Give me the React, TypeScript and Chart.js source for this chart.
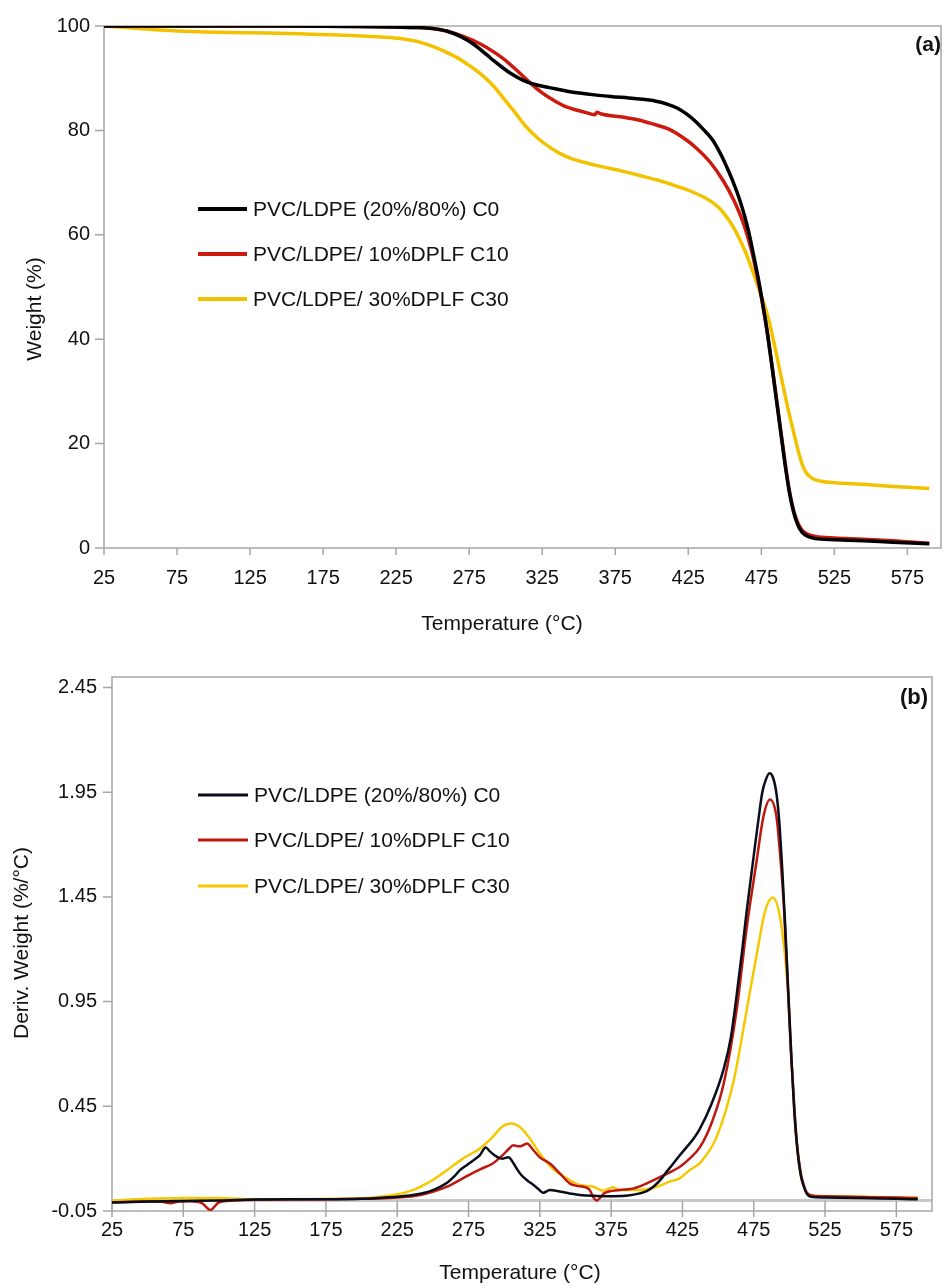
import React, { useEffect, useRef } from "react";
import { Chart, registerables } from "chart.js";

Chart.register(...registerables);

// ---------- shared labels / ticks ----------
const X_TICKS = [25, 75, 125, 175, 225, 275, 325, 375, 425, 475, 525, 575];
const TGA_Y_TICKS = [0, 20, 40, 60, 80, 100];
const DTG_Y_TICKS = [-0.05, 0.45, 0.95, 1.45, 1.95, 2.45];
const SERIES_LABELS = ["PVC/LDPE (20%/80%) C0", "PVC/LDPE/ 10%DPLF C10", "PVC/LDPE/ 30%DPLF C30"];
const X_TITLE = "Temperature (°C)";
const TGA_Y_TITLE = "Weight (%)";
const DTG_Y_TITLE = "Deriv. Weight (%/°C)";

// ---------- (a) TGA: weight (%) ----------
const TGA_C0_T = [25, 60, 100, 150, 200, 225, 240, 250, 260, 269, 278, 287, 292, 298, 303, 312, 320, 330, 344, 358, 372, 388, 403, 411, 418, 424, 430, 436, 439, 442, 445, 448, 451, 455, 461, 466, 470, 473, 476, 479, 482, 485, 488, 491, 494, 497, 500, 503, 507, 512, 525, 545, 565, 590];
const TGA_C0_W = [100, 100, 100, 100, 99.9, 99.8, 99.7, 99.5, 99.0, 98.0, 96.5, 94.5, 93.3, 92.0, 91.0, 89.6, 88.8, 88.2, 87.4, 86.9, 86.5, 86.1, 85.6, 85.0, 84.2, 83.1, 81.7, 80.0, 79.1, 78.0, 76.6, 75.0, 73.2, 70.6, 66.0, 61.0, 55.7, 51.5, 46.7, 41.5, 35.4, 29.1, 22.8, 16.5, 11.0, 7.0, 4.4, 3.0, 2.2, 1.8, 1.6, 1.4, 1.1, 0.8];

const TGA_C10_T = [25, 60, 100, 150, 200, 225, 240, 250, 260, 271, 283, 292, 299, 306, 311, 316, 320, 325, 332, 339, 346, 355, 361, 362.5, 365, 381, 391, 400, 412, 423, 431, 440, 449, 456, 463, 468, 472, 476, 479, 482, 485, 488, 491, 494, 497, 500, 503, 507, 512, 525, 545, 565, 590];
const TGA_C10_W = [100, 100, 100, 100, 99.9, 99.8, 99.7, 99.5, 99.0, 98.0, 96.5, 95.0, 93.6, 91.9, 90.6, 89.3, 88.3, 87.2, 85.9, 84.8, 84.1, 83.4, 83.0, 83.5, 83.2, 82.5, 82.0, 81.3, 80.2, 78.3, 76.5, 73.9, 70.3, 66.7, 62.0, 57.3, 52.3, 46.5, 41.4, 35.6, 29.3, 23.1, 16.9, 11.3, 7.3, 4.8, 3.4, 2.6, 2.2, 1.9, 1.7, 1.4, 0.9];

const TGA_C30_T = [25, 40, 60, 90, 125, 160, 195, 215, 228, 240, 250, 260, 270, 282, 291, 299, 307, 314, 322, 330, 337, 345, 355, 365, 380, 394, 405, 417, 428, 437, 442, 447, 452, 457, 464, 470, 475, 480, 485, 489, 493, 497, 500, 503, 506, 510, 516, 525, 545, 565, 590];
const TGA_C30_W = [100, 99.7, 99.3, 98.9, 98.7, 98.5, 98.2, 97.9, 97.6, 97.0, 96.1, 94.9, 93.4, 91.0, 88.7, 86.0, 83.2, 80.7, 78.5, 76.8, 75.6, 74.6, 73.8, 73.1, 72.2, 71.2, 70.4, 69.3, 68.2, 67.0, 66.1, 64.9, 63.1, 60.9, 56.8, 52.3, 48.3, 43.8, 37.6, 32.2, 27.0, 22.3, 18.9, 16.0, 14.3, 13.3, 12.8, 12.5, 12.2, 11.8, 11.4];

// ---------- (b) DTG: derivative weight (%/°C) ----------
const DTG_C0_T = [25, 50, 75, 100, 125, 150, 175, 200, 213, 225, 236, 245, 250, 255, 260, 265, 269, 274, 278, 283, 287, 290, 292.5, 296, 299, 303, 306.5, 309, 312, 316, 320.5, 324, 327.5, 332, 336, 340, 346, 353, 365, 377, 387, 395, 400, 405, 410, 414, 419, 423, 428, 433, 437, 445, 454, 459, 463, 467, 470, 473, 476, 478.5, 481, 483.5, 486, 488.5, 491, 493, 495, 497, 499, 501.5, 503.5, 505.5, 508, 510, 512, 515, 525, 550, 575, 590];
const DTG_C0_D = [-0.01, -0.005, -0.002, 0.0, 0.005, 0.006, 0.006, 0.008, 0.013, 0.018, 0.026, 0.038, 0.05, 0.065, 0.085, 0.115, 0.145, 0.17, 0.19, 0.217, 0.253, 0.235, 0.22, 0.205, 0.2, 0.207, 0.178, 0.15, 0.122, 0.097, 0.074, 0.055, 0.037, 0.05, 0.047, 0.042, 0.034, 0.026, 0.022, 0.021, 0.024, 0.034, 0.045, 0.068, 0.102, 0.138, 0.18, 0.215, 0.255, 0.297, 0.34, 0.455, 0.63, 0.78, 0.98, 1.2, 1.38, 1.54, 1.7, 1.83, 1.95, 2.01, 2.04, 2.02, 1.94, 1.8, 1.58, 1.32, 1.03, 0.67, 0.42, 0.25, 0.12, 0.07, 0.035, 0.018, 0.015, 0.012, 0.008, 0.006];

const DTG_C10_T = [25, 50, 60, 66, 72, 80, 88, 94, 100, 110, 125, 150, 175, 200, 213, 225, 236, 250, 260, 271, 283, 292, 299, 303, 306.5, 309, 311, 313.5, 316, 320.5, 325, 332, 339, 346, 351, 355.5, 360, 362.5, 365, 367.5, 370, 381, 391, 400, 412, 423, 430, 437.4, 446, 454, 463, 470, 477, 481.7, 486.4, 491, 493.5, 496, 498.5, 501, 503.5, 505.5, 508, 510, 512, 515, 525, 550, 575, 590];
const DTG_C10_D = [-0.008, -0.005, -0.006, -0.013, -0.005, -0.004, -0.012, -0.045, -0.008, 0.0, 0.004, 0.005, 0.006, 0.008, 0.01, 0.014, 0.02, 0.042, 0.066, 0.106, 0.149, 0.177, 0.217, 0.245, 0.264, 0.26, 0.259, 0.265, 0.272, 0.24, 0.206, 0.177, 0.13, 0.082, 0.07, 0.066, 0.05, 0.015, 0.0, 0.015, 0.034, 0.05, 0.058, 0.082, 0.121, 0.16, 0.2, 0.256, 0.38, 0.56, 0.91, 1.3, 1.62, 1.83, 1.915, 1.83, 1.65, 1.42, 1.08, 0.72, 0.44, 0.26, 0.13, 0.075, 0.04, 0.025, 0.02, 0.017, 0.014, 0.012];

const DTG_C30_T = [25, 50, 75, 100, 125, 150, 175, 200, 213, 225, 236, 243, 250, 260, 271, 283, 292, 299, 305, 311, 318, 325, 334, 344, 353, 362.5, 369.5, 373, 376.6, 381, 395, 407, 416, 423, 430, 437.4, 449, 461, 470, 478, 483, 488.3, 493.5, 497.7, 499.5, 501.5, 503.5, 505.5, 508, 510, 512, 515, 525, 550, 575, 590];
const DTG_C30_D = [0.0, 0.008, 0.012, 0.012, 0.006, 0.006, 0.007, 0.01, 0.018, 0.03, 0.05, 0.072, 0.098, 0.145, 0.2, 0.249, 0.304, 0.355, 0.368, 0.351, 0.296, 0.225, 0.153, 0.106, 0.074, 0.066, 0.047, 0.055, 0.063, 0.05, 0.05, 0.066, 0.09, 0.106, 0.145, 0.18, 0.304, 0.574, 0.907, 1.21, 1.383, 1.447, 1.351, 1.113, 0.95, 0.67, 0.42, 0.25, 0.12, 0.07, 0.04, 0.025, 0.02, 0.018, 0.015, 0.013];

const FONT = '"Liberation Sans", Arial, Helvetica, sans-serif';
const TEXT = "#111111";

const zip = (t: number[], v: number[]) => t.map((x, i) => ({ x, y: v[i] }));

type Panel = {
  width: number;
  height: number;
  top: number;
  padding: { top: number; right: number; left: number; bottom: number };
  yAxisWidth: number;
  xAxisHeight: number;
  xMax: number;
  yMin: number;
  yMax: number;
  yTicks: number[];
  yDigits: number;
  xLabelPad: number;
  yLabelPad: number;
  lineWidth: number;
  colors: string[];
  series: { t: number[]; v: number[] }[];
  legendRows: number[];
  legendX1: number;
  legendX2: number;
  legendTextX: number;
  legendLineWidth: number;
  xTitle: [number, number];
  yTitle: [number, number];
  yTitleText: string;
  tag: string;
  tagX: number;
  tagY: number;
  tagSize: number;
  zeroLine: boolean;
  xTickLen: number;
  yTickLen: number;
};

function decorPlugin(d: Panel) {
  return {
    id: "decor",
    beforeDatasetsDraw(chart: any) {
      const { ctx, chartArea: a, scales } = chart;
      const xs = scales.x;
      const ys = scales.y;
      ctx.save();
      if (d.zeroLine) {
        const y0 = ys.getPixelForValue(0);
        ctx.strokeStyle = "#c9c9c9";
        ctx.lineWidth = 3;
        ctx.beginPath();
        ctx.moveTo(a.left, y0);
        ctx.lineTo(a.right, y0);
        ctx.stroke();
      }
      ctx.strokeStyle = "#a6a6a6";
      ctx.lineWidth = 1.5;
      ctx.strokeRect(a.left, a.top, a.right - a.left, a.bottom - a.top);
      ctx.beginPath();
      ys.ticks.forEach((t: any) => {
        const y = ys.getPixelForValue(t.value);
        ctx.moveTo(a.left - d.yTickLen, y);
        ctx.lineTo(a.left, y);
      });
      const xStart = d.zeroLine ? ys.getPixelForValue(0) : a.bottom;
      xs.ticks.forEach((t: any) => {
        const x = xs.getPixelForValue(t.value);
        ctx.moveTo(x, xStart);
        ctx.lineTo(x, a.bottom + d.xTickLen);
      });
      ctx.stroke();
      ctx.restore();
    },
    afterDraw(chart: any) {
      const { ctx } = chart;
      ctx.save();
      // legend
      chart.data.datasets.forEach((ds: any, i: number) => {
        const y = d.legendRows[i];
        ctx.strokeStyle = ds.borderColor;
        ctx.lineWidth = d.legendLineWidth;
        ctx.lineCap = "butt";
        ctx.beginPath();
        ctx.moveTo(d.legendX1, y);
        ctx.lineTo(d.legendX2, y);
        ctx.stroke();
        ctx.fillStyle = TEXT;
        ctx.font = `21px ${FONT}`;
        ctx.textAlign = "left";
        ctx.textBaseline = "middle";
        ctx.fillText(ds.label, d.legendTextX, y + 1);
      });
      // axis titles
      ctx.fillStyle = TEXT;
      ctx.font = `21px ${FONT}`;
      ctx.textAlign = "center";
      ctx.textBaseline = "middle";
      ctx.fillText(X_TITLE, d.xTitle[0], d.xTitle[1]);
      ctx.save();
      ctx.translate(d.yTitle[0], d.yTitle[1]);
      ctx.rotate(-Math.PI / 2);
      ctx.fillText(d.yTitleText, 0, 0);
      ctx.restore();
      // panel tag
      ctx.font = `bold ${d.tagSize}px ${FONT}`;
      ctx.textAlign = "right";
      ctx.fillText(d.tag, d.tagX, d.tagY);
      ctx.restore();
    },
  };
}

function buildConfig(p: Panel): any {
  return {
    type: "line",
    data: {
      datasets: p.series.map((s, i) => ({
        label: SERIES_LABELS[i],
        data: zip(s.t, s.v),
        borderColor: p.colors[i],
        backgroundColor: p.colors[i],
        borderWidth: p.lineWidth,
        pointRadius: 0,
        fill: false,
        cubicInterpolationMode: "monotone",
      })),
    },
    options: {
      responsive: false,
      animation: false,
      events: [],
      layout: { padding: p.padding },
      plugins: {
        legend: { display: false },
        title: { display: false },
        tooltip: { enabled: false },
      },
      scales: {
        x: {
          type: "linear",
          min: 25,
          max: p.xMax,
          afterBuildTicks: (s: any) => {
            s.ticks = X_TICKS.map((value) => ({ value }));
          },
          afterFit: (s: any) => {
            s.height = p.xAxisHeight;
          },
          grid: { display: false, drawTicks: false },
          border: { display: false },
          ticks: {
            autoSkip: false,
            maxRotation: 0,
            padding: p.xLabelPad,
            color: TEXT,
            font: { family: FONT, size: 20 },
            callback: (v: any) => String(v),
          },
        },
        y: {
          type: "linear",
          min: p.yMin,
          max: p.yMax,
          afterBuildTicks: (s: any) => {
            s.ticks = p.yTicks.map((value) => ({ value }));
          },
          afterFit: (s: any) => {
            s.width = p.yAxisWidth;
          },
          grid: { display: false, drawTicks: false },
          border: { display: false },
          ticks: {
            padding: p.yLabelPad,
            color: TEXT,
            font: { family: FONT, size: 20 },
            callback: (v: any) => Number(v).toFixed(p.yDigits),
          },
        },
      },
    },
    plugins: [decorPlugin(p)],
  };
}

const TOP_PANEL: Panel = {
  width: 943,
  height: 650,
  top: 0,
  padding: { top: 24, right: 2, left: 0, bottom: 0 },
  yAxisWidth: 104,
  xAxisHeight: 102,
  xMax: 598,
  yMin: 0,
  yMax: 100,
  yTicks: TGA_Y_TICKS,
  yDigits: 0,
  xLabelPad: 18,
  yLabelPad: 14,
  lineWidth: 3.5,
  colors: ["#000000", "#cc1a0e", "#f2c100"],
  series: [
    { t: TGA_C0_T, v: TGA_C0_W },
    { t: TGA_C10_T, v: TGA_C10_W },
    { t: TGA_C30_T, v: TGA_C30_W },
  ],
  legendRows: [209, 254, 299],
  legendX1: 198,
  legendX2: 247,
  legendTextX: 253,
  legendLineWidth: 4,
  xTitle: [502, 624],
  yTitle: [35, 309],
  yTitleText: TGA_Y_TITLE,
  tag: "(a)",
  tagX: 941,
  tagY: 45,
  tagSize: 21,
  zeroLine: false,
  xTickLen: 7,
  yTickLen: 9,
};

const BOTTOM_PANEL: Panel = {
  width: 943,
  height: 635,
  top: 650,
  padding: { top: 25, right: 11, left: 0, bottom: 0 },
  yAxisWidth: 112,
  xAxisHeight: 74,
  xMax: 600,
  yMin: -0.05,
  yMax: 2.5,
  yTicks: DTG_Y_TICKS,
  yDigits: 2,
  xLabelPad: 7,
  yLabelPad: 15,
  lineWidth: 2.5,
  colors: ["#0a0d1a", "#bd1810", "#f5c800"],
  series: [
    { t: DTG_C0_T, v: DTG_C0_D },
    { t: DTG_C10_T, v: DTG_C10_D },
    { t: DTG_C30_T, v: DTG_C30_D },
  ],
  legendRows: [145, 190, 236],
  legendX1: 198,
  legendX2: 248,
  legendTextX: 254,
  legendLineWidth: 3,
  xTitle: [520, 623],
  yTitle: [22, 293],
  yTitleText: DTG_Y_TITLE,
  tag: "(b)",
  tagX: 928,
  tagY: 48,
  tagSize: 22,
  zeroLine: true,
  xTickLen: 6,
  yTickLen: 9,
};

function ChartPanel({ panel }: { panel: Panel }) {
  const ref = useRef<HTMLCanvasElement>(null);
  useEffect(() => {
    if (!ref.current) return;
    const chart = new Chart(ref.current, buildConfig(panel));
    return () => chart.destroy();
  }, [panel]);
  return (
    <canvas
      ref={ref}
      width={panel.width}
      height={panel.height}
      style={{
        position: "absolute",
        left: 0,
        top: panel.top,
        width: panel.width,
        height: panel.height,
        display: "block",
      }}
    />
  );
}

export default function App() {
  return (
    <div
      style={{
        position: "absolute",
        left: 0,
        top: 0,
        width: 943,
        height: 1285,
        background: "#ffffff",
        overflow: "hidden",
      }}
    >
      <ChartPanel panel={TOP_PANEL} />
      <ChartPanel panel={BOTTOM_PANEL} />
    </div>
  );
}
